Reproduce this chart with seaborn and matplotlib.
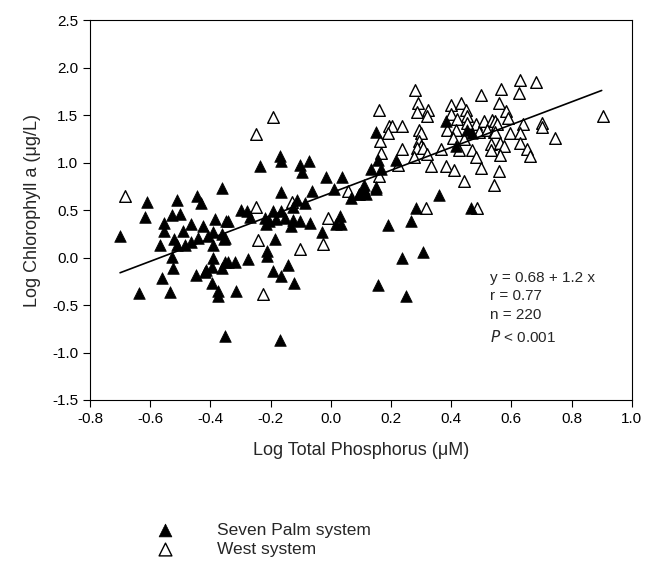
import matplotlib
matplotlib.use("Agg")
import matplotlib.pyplot as plt
import seaborn as sns
import numpy as np
import pandas as pd

# Seven Palm system (filled triangles): log TP, log Chl a
seven_palm_x = [
    -0.609, -0.617, -0.700, -0.510, -0.446, -0.431, -0.361, -0.529, -0.501, -0.553,
    -0.553, -0.492, -0.463, -0.426, -0.383, -0.347, -0.390, -0.363, -0.407, -0.440,
    -0.520, -0.566, -0.512, -0.484, -0.465, -0.390, -0.355, -0.529, -0.525, -0.390,
    -0.352, -0.449, -0.416, -0.396, -0.562, -0.363, -0.636, -0.534, -0.418, -0.394,
    -0.374, -0.374, -0.352, -0.168, -0.165, -0.234, -0.102, -0.073, -0.096, -0.165,
    -0.062, -0.016, 0.036, 0.012, 0.067, 0.095, -0.113, -0.124, -0.087, -0.297,
    -0.278, -0.269, -0.192, -0.165, -0.220, -0.205, -0.181, -0.153, -0.126, -0.102,
    -0.131, -0.214, -0.069, -0.341, 0.029, 0.018, 0.034, -0.029, -0.186, -0.211,
    -0.211, -0.275, -0.341, -0.319, -0.352, -0.192, -0.142, -0.165, -0.123, -0.316,
    -0.170, 0.382, 0.454, 0.470, 0.150, 0.415, 0.158, 0.216, 0.134, 0.167,
    0.112, 0.150, 0.112, 0.150, 0.095, 0.117, 0.360, 0.283, 0.465, 0.191,
    0.268, 0.305, 0.238, 0.156, 0.249,
]
seven_palm_y = [
    0.58, 0.43, 0.23, 0.61, 0.65, 0.57, 0.73, 0.45, 0.46, 0.36,
    0.28, 0.28, 0.35, 0.33, 0.41, 0.38, 0.27, 0.25, 0.23, 0.21,
    0.20, 0.13, 0.13, 0.13, 0.16, 0.13, 0.20, 0.01, -0.11, 0.00,
    -0.05, -0.18, -0.13, -0.10, -0.22, -0.11, -0.37, -0.36, -0.15, -0.27,
    -0.35, -0.40, -0.83, 1.07, 1.02, 0.96, 0.98, 1.02, 0.90, 0.69,
    0.70, 0.85, 0.85, 0.72, 0.63, 0.67, 0.61, 0.53, 0.57, 0.50,
    0.49, 0.43, 0.49, 0.49, 0.42, 0.39, 0.41, 0.42, 0.40, 0.38,
    0.33, 0.35, 0.36, 0.38, 0.44, 0.35, 0.35, 0.27, 0.20, 0.07,
    0.02, -0.01, -0.05, -0.05, 0.21, -0.14, -0.08, -0.19, -0.27, -0.35,
    -0.87, 1.44, 1.34, 1.31, 1.32, 1.18, 1.03, 1.03, 0.93, 0.93,
    0.76, 0.74, 0.72, 0.72, 0.67, 0.67, 0.66, 0.52, 0.52, 0.34,
    0.38, 0.06, 0.00, -0.29, -0.40,
]

# West system (open triangles)
west_x = [
    -0.683, 0.056, -0.247, -0.129, -0.010, -0.026, -0.242, -0.102, -0.225, -0.192,
    -0.249, 0.316, 0.487, 0.279, 0.498, 0.159, 0.291, 0.286, 0.323, 0.319,
    0.398, 0.434, 0.398, 0.448, 0.454, 0.420, 0.484, 0.509, 0.536, 0.451,
    0.194, 0.205, 0.238, 0.189, 0.165, 0.294, 0.299, 0.387, 0.415, 0.492,
    0.520, 0.542, 0.407, 0.443, 0.294, 0.299, 0.288, 0.308, 0.238, 0.167,
    0.365, 0.426, 0.470, 0.531, 0.531, 0.277, 0.321, 0.484, 0.222, 0.161,
    0.334, 0.382, 0.410, 0.498, 0.443, 0.542, 0.630, 0.682, 0.567, 0.625,
    0.559, 0.583, 0.589, 0.547, 0.553, 0.638, 0.702, 0.702, 0.594, 0.630,
    0.547, 0.903, 0.744, 0.561, 0.630, 0.575, 0.652, 0.561, 0.663, 0.559,
]
west_y = [
    0.65, 0.70, 0.53, 0.58, 0.42, 0.14, 0.19, 0.09, -0.38, 1.48,
    1.30, 0.52, 0.52, 1.77, 1.71, 1.55, 1.63, 1.53, 1.55, 1.49,
    1.61, 1.63, 1.51, 1.55, 1.49, 1.46, 1.41, 1.44, 1.45, 1.42,
    1.39, 1.39, 1.39, 1.31, 1.23, 1.34, 1.31, 1.34, 1.34, 1.32,
    1.34, 1.32, 1.26, 1.25, 1.23, 1.18, 1.15, 1.15, 1.14, 1.10,
    1.14, 1.13, 1.13, 1.20, 1.13, 1.06, 1.09, 1.06, 0.97, 0.86,
    0.96, 0.96, 0.92, 0.94, 0.81, 0.76, 1.87, 1.85, 1.78, 1.73,
    1.63, 1.54, 1.47, 1.44, 1.41, 1.41, 1.42, 1.38, 1.31, 1.31,
    1.32, 1.49, 1.26, 1.21, 1.21, 1.17, 1.14, 1.08, 1.07, 0.91,
]

# regression y = 0.68 + 1.2 x over the data range
fit_x = [-0.70, 0.90]
fit_intercept = 0.68
fit_slope = 1.2

x_ticks = [-0.8, -0.6, -0.4, -0.2, 0.0, 0.2, 0.4, 0.6, 0.8, 1.0]
y_ticks = [-1.5, -1.0, -0.5, 0.0, 0.5, 1.0, 1.5, 2.0, 2.5]

sns.set_style("ticks")
plt.rcParams["font.family"] = ["Liberation Sans", "DejaVu Sans"]
plt.rcParams["axes.unicode_minus"] = False

fig = plt.figure(figsize=(6.52, 5.61), dpi=100)
ax = fig.add_axes([0.138, 0.287, 0.831, 0.677])

sp = pd.DataFrame({"tp": seven_palm_x, "chl": seven_palm_y})
we = pd.DataFrame({"tp": west_x, "chl": west_y})

sns.scatterplot(data=we, x="tp", y="chl", marker="^", s=70, color="white",
                edgecolor="black", linewidth=1.0, ax=ax, label="West system", zorder=3)
sns.scatterplot(data=sp, x="tp", y="chl", marker="^", s=70, color="black",
                edgecolor="black", linewidth=0.5, ax=ax, label="Seven Palm system", zorder=4)

fx = np.array(fit_x)
sns.lineplot(x=fx, y=fit_intercept + fit_slope * fx, color="black", linewidth=1.2,
             ax=ax, legend=False, zorder=5)

ax.set_xlim(-0.8, 1.0)
ax.set_ylim(-1.5, 2.5)
ax.set_xticks(x_ticks)
ax.set_yticks(y_ticks)
ax.set_xticklabels([f"{t:.1f}" for t in x_ticks])
ax.set_yticklabels([f"{t:.1f}" for t in y_ticks])
ax.tick_params(direction="out", length=5, width=0.8, labelsize=11, colors="black")
for s in ax.spines.values():
    s.set_color("black")
    s.set_linewidth(0.8)

ax.set_xlabel("Log Total Phosphorus (\u03bcM)", fontsize=13, labelpad=12)
ax.set_ylabel("Log Chlorophyll a (\u03bcg/L)", fontsize=13, labelpad=8)

ax.text(0.53, -0.21, "y = 0.68 + 1.2 x", fontsize=11, va="center")
ax.text(0.53, -0.41, "r = 0.77", fontsize=11, va="center")
ax.text(0.53, -0.61, "n = 220", fontsize=11, va="center")
ax.text(0.53, -0.84, "$\\it{P}$ < 0.001", fontsize=11, va="center")

handles, labels = ax.get_legend_handles_labels()
ax.get_legend().remove()
order = [labels.index("Seven Palm system"), labels.index("West system")]
fig.legend([handles[i] for i in order], [labels[i] for i in order],
           loc="center left", bbox_to_anchor=(0.203, 0.038), frameon=False,
           fontsize=12.5, handletextpad=2.0, labelspacing=0.25, markerscale=1.1)

fig.savefig("out.png", dpi=100)
